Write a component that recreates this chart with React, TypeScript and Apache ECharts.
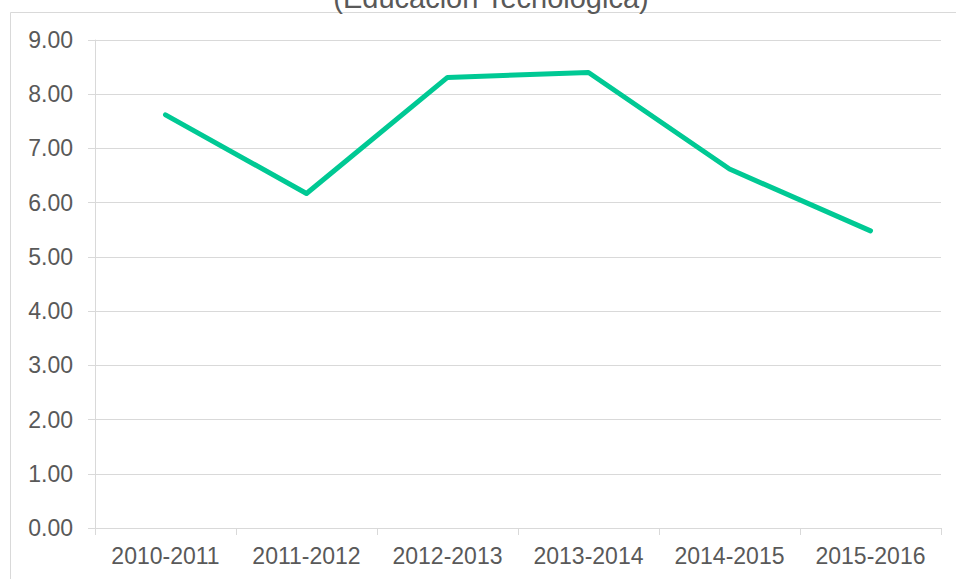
import React, { useEffect, useRef } from "react";
import * as echarts from "echarts";

const categories = ["2010-2011", "2011-2012", "2012-2013", "2013-2014", "2014-2015", "2015-2016"];
const values = [7.62, 6.17, 8.31, 8.4, 6.62, 5.48];
const titleText = "(Educación Tecnológica)";

export default function App() {
  const ref = useRef<HTMLDivElement>(null);
  useEffect(() => {
    if (!ref.current) return;
    const chart = echarts.init(ref.current, undefined, { renderer: "svg" });
    const font = "Arial, 'Liberation Sans', sans-serif";
    chart.setOption({
      animation: false,
      backgroundColor: "#ffffff",
      grid: { left: 95, right: 15, top: 40, bottom: 51, containLabel: false },
      graphic: [
        {
          type: "rect",
          shape: { x: 10.5, y: 12.5, width: 1200, height: 1200 },
          style: { fill: "none", stroke: "#d9d9d9", lineWidth: 1 },
          z: 0,
          silent: true,
        },
        {
          type: "text",
          x: 491,
          y: -2,
          style: {
            text: titleText,
            fill: "#595959",
            font: `29px ${font}`,
            align: "center",
            verticalAlign: "middle",
          },
          z: 10,
        },
      ],
      xAxis: {
        type: "category",
        data: categories,
        boundaryGap: true,
        axisLine: { show: true, lineStyle: { color: "#d9d9d9", width: 1 } },
        axisTick: { show: true, length: 7, lineStyle: { color: "#d9d9d9" } },
        axisLabel: {
          color: "#595959",
          fontSize: 23,
          fontFamily: font,
          margin: 16,
          interval: 0,
          hideOverlap: false,
        },
        splitLine: { show: false },
      },
      yAxis: {
        type: "value",
        min: 0,
        max: 9,
        interval: 1,
        axisLine: { show: true, lineStyle: { color: "#d9d9d9", width: 1 } },
        axisTick: { show: true, length: 7, lineStyle: { color: "#d9d9d9" } },
        axisLabel: {
          color: "#595959",
          fontSize: 23,
          fontFamily: font,
          margin: 22,
          formatter: (v: number) => v.toFixed(2),
        },
        splitLine: { show: true, lineStyle: { color: "#d9d9d9", width: 1 } },
      },
      series: [
        {
          type: "line",
          data: values,
          showSymbol: false,
          symbol: "none",
          lineStyle: { color: "#00C994", width: 5, cap: "round", join: "round" },
          itemStyle: { color: "#00C994" },
        },
      ],
    });
    return () => chart.dispose();
  }, []);
  return (
    <div
      ref={ref}
      style={{ position: "fixed", left: 0, top: 0, width: 956, height: 579 }}
    />
  );
}
